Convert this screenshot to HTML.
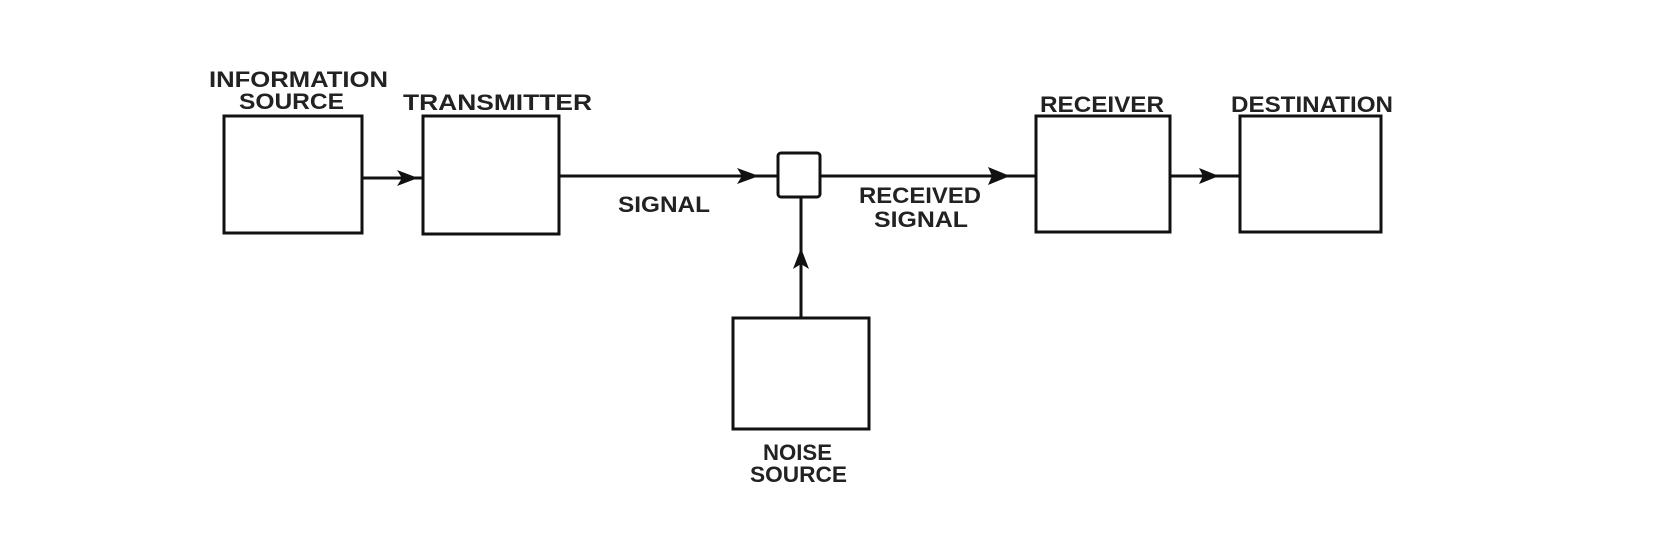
<!DOCTYPE html>
<html><head><style>html,body{margin:0;padding:0;background:#fff;}</style></head>
<body>
<svg width="1654" height="538" viewBox="0 0 1654 538" xmlns="http://www.w3.org/2000/svg">
<rect width="1654" height="538" fill="#fff"/>
<g fill="none" stroke="#111" stroke-width="3">
<rect x="224" y="116" width="138" height="117"/>
<rect x="423" y="116" width="136" height="118"/>
<rect x="778" y="153" width="42" height="44" rx="3"/>
<rect x="1036" y="116" width="134" height="116"/>
<rect x="1240" y="116" width="141" height="116"/>
<rect x="733" y="318" width="136" height="111"/>
<line x1="362" y1="178" x2="423" y2="178"/>
<line x1="559" y1="176" x2="778" y2="176"/>
<line x1="820" y1="176" x2="1036" y2="176"/>
<line x1="1170" y1="176" x2="1240" y2="176"/>
<line x1="801" y1="197" x2="801" y2="318"/>
</g>
<g fill="#111">
<polygon points="418,178 397,170 402,178 397,186"/>
<polygon points="759,176 737,168 742,176 737,184"/>
<polygon points="1010,176 988,167 992,176 988,185"/>
<polygon points="1219,176 1199,168 1203,176 1199,184"/>
<polygon points="801,248 793,269 801,264 809,269"/>
</g>
<g font-family="Liberation Sans, sans-serif" font-weight="bold" font-size="22" fill="#222">
<text x="209" y="87" textLength="179" lengthAdjust="spacingAndGlyphs">INFORMATION</text>
<text x="239" y="109" textLength="105" lengthAdjust="spacingAndGlyphs">SOURCE</text>
<text x="403" y="110" textLength="189" lengthAdjust="spacingAndGlyphs">TRANSMITTER</text>
<text x="618" y="212" textLength="92" lengthAdjust="spacingAndGlyphs">SIGNAL</text>
<text x="859" y="203" textLength="122" lengthAdjust="spacingAndGlyphs">RECEIVED</text>
<text x="874" y="227" textLength="94" lengthAdjust="spacingAndGlyphs">SIGNAL</text>
<text x="1040" y="112" textLength="124" lengthAdjust="spacingAndGlyphs">RECEIVER</text>
<text x="1231" y="112" textLength="162" lengthAdjust="spacingAndGlyphs">DESTINATION</text>
<text x="763" y="460" textLength="69" lengthAdjust="spacingAndGlyphs">NOISE</text>
<text x="750" y="482" textLength="97" lengthAdjust="spacingAndGlyphs">SOURCE</text>
</g>
</svg>
</body></html>
